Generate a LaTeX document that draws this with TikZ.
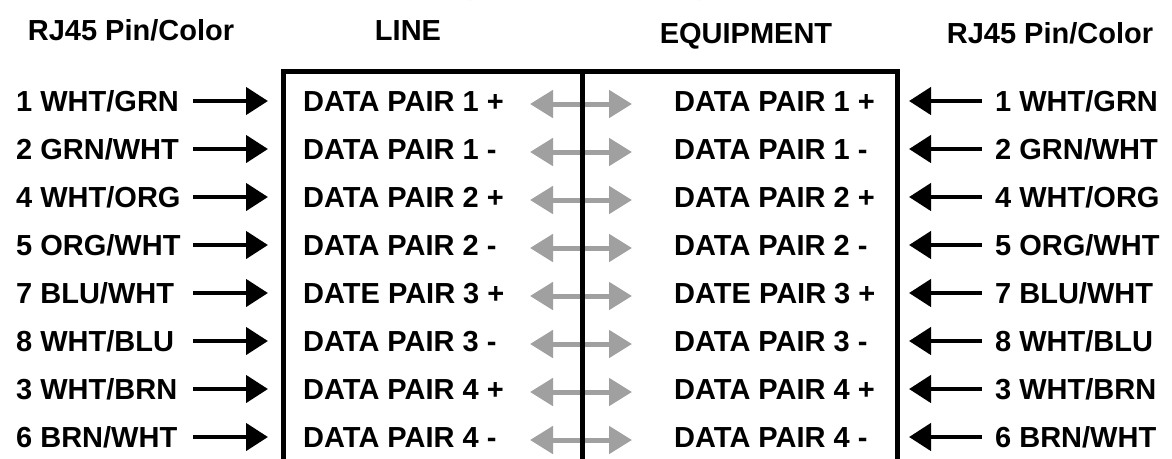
\documentclass[tikz,border=0pt]{standalone}
\usepackage{fontspec}
\setmainfont{Liberation Sans}
\usetikzlibrary{arrows.meta}
\definecolor{arrowgray}{HTML}{A0A0A0}
\tikzset{
  lbl/.style={font=\bfseries\fontsize{29}{31}\selectfont, inner sep=0pt, text=black},
  blk/.style={line width=4.5pt, draw=black, -{Triangle[length=22pt,width=27pt]}},
  gry/.style={line width=5pt, draw=arrowgray, {Triangle[length=23pt,width=27pt]}-{Triangle[length=23pt,width=27pt]}},
  boxline/.style={line width=5pt, draw=black, line join=miter}
}
\begin{document}
\begin{tikzpicture}[x=1pt,y=-1pt]
\useasboundingbox (0,0) rectangle (1172,458);
% cut-off title parentheses
\node[lbl, anchor=base] (po) at (468,-6) {(};
\node[lbl, anchor=base] (pc) at (702,-6) {)};
% headers
\node[lbl, anchor=base] (hl) at (131,40) {RJ45 Pin/Color};
\node[lbl, anchor=base] (hline) at (408,40) {LINE};
\node[lbl, anchor=base] (heq) at (746,43) {EQUIPMENT};
\node[lbl, anchor=base] (hr) at (1050,43) {RJ45 Pin/Color};
% gray double arrows (behind box lines)
\foreach \i in {0,...,7}{
  \coordinate (ga\i) at (530,{104+48*\i});
  \coordinate (gb\i) at (632,{104+48*\i});
  \draw[gry] (ga\i) -- (gb\i);
}
% box
\coordinate (BL) at (283,465);
\coordinate (TL) at (283,71);
\coordinate (TR) at (897,71);
\coordinate (BR) at (897,465);
\coordinate (MT) at (582,71);
\coordinate (MB) at (582,465);
\draw[boxline] (BL) -- (TL) -- (TR) -- (BR);
\draw[boxline] (MT) -- (MB);
% rows
\foreach \i/\pin/\pair in {0/{1 WHT/GRN}/{DATA PAIR 1 +},1/{2 GRN/WHT}/{DATA PAIR 1 -},2/{4 WHT/ORG}/{DATA PAIR 2 +},3/{5 ORG/WHT}/{DATA PAIR 2 -},4/{7 BLU/WHT}/{DATE PAIR 3 +},5/{8 WHT/BLU}/{DATA PAIR 3 -},6/{3 WHT/BRN}/{DATA PAIR 4 +},7/{6 BRN/WHT}/{DATA PAIR 4 -}}{
  \node[lbl, anchor=base west] (lp\i) at (16,{111+48*\i}) {\pin};
  \node[lbl, anchor=base west] (ld\i) at (303,{111+48*\i}) {\pair};
  \node[lbl, anchor=base west] (rd\i) at (674,{111+48*\i}) {\pair};
  \node[lbl, anchor=base west] (rp\i) at (995,{111+48*\i}) {\pin};
  \coordinate (la\i) at (193,{101+48*\i});
  \coordinate (lt\i) at (268,{101+48*\i});
  \coordinate (ra\i) at (982,{101+48*\i});
  \coordinate (rt\i) at (909,{101+48*\i});
  \draw[blk] (la\i) -- (lt\i);
  \draw[blk] (ra\i) -- (rt\i);
}
\end{tikzpicture}
\end{document}
